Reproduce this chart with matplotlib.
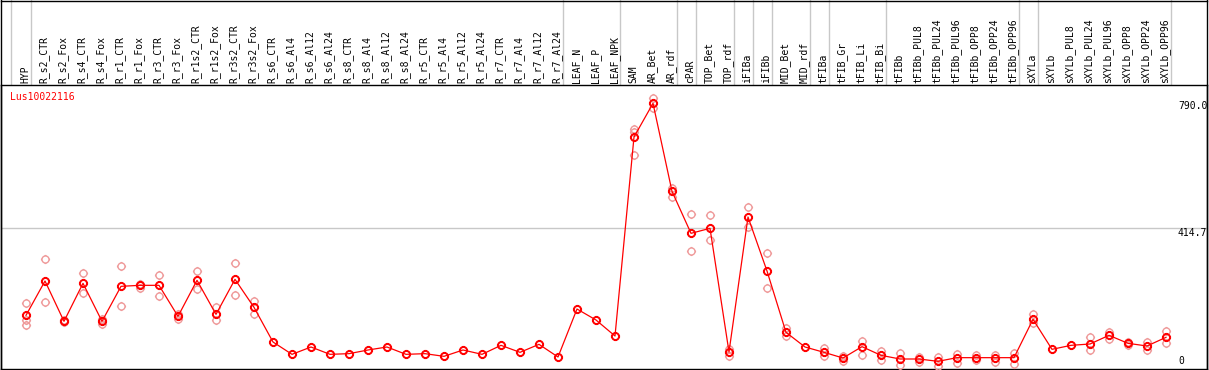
import numpy as np
import matplotlib
matplotlib.use("Agg")
import matplotlib.pyplot as plt
from matplotlib.path import Path
from matplotlib.transforms import blended_transform_factory
from matplotlib.lines import Line2D

nan = np.nan

labels = ['HYP', 'R_s2_CTR', 'R_s2_Fox', 'R_s4_CTR', 'R_s4_Fox', 'R_r1_CTR', 'R_r1_Fox',
          'R_r3_CTR', 'R_r3_Fox', 'R_r1s2_CTR', 'R_r1s2_Fox', 'R_r3s2_CTR', 'R_r3s2_Fox',
          'R_s6_CTR', 'R_s6_Al4', 'R_s6_Al12', 'R_s6_Al24', 'R_s8_CTR', 'R_s8_Al4', 'R_s8_Al12',
          'R_s8_Al24', 'R_r5_CTR', 'R_r5_Al4', 'R_r5_Al12', 'R_r5_Al24', 'R_r7_CTR', 'R_r7_Al4',
          'R_r7_Al12', 'R_r7_Al24', 'LEAF_N', 'LEAF_P', 'LEAF_NPK', 'SAM', 'AR_Bet', 'AR_rdf',
          'cPAR', 'TOP_Bet', 'TOP_rdf', 'iFIBa', 'iFIBb', 'MID_Bet', 'MID_rdf', 'tFIBa',
          'tFIB_Gr', 'tFIB_Li', 'tFIB_Bi', 'tFIBb', 'tFIBb_PUL8', 'tFIBb_PUL24', 'tFIBb_PUL96',
          'tFIBb_OPP8', 'tFIBb_OPP24', 'tFIBb_OPP96', 'sXYLa', 'sXYLb', 'sXYLb_PUL8',
          'sXYLb_PUL24', 'sXYLb_PUL96', 'sXYLb_OPP8', 'sXYLb_OPP24', 'sXYLb_OPP96']

# mean expression
mean_vals = [152, 255, 134, 248, 134, 239, 242, 242, 149, 257, 155, 260, 176,
             72, 35, 57, 35, 37, 48, 57, 35, 37, 29, 48, 35, 62, 41, 65, 27,
             171, 138, 90,
             687, 788, 524, 398, 413, 42, 447, 285, 101, 57, 41, 24, 58, 32,
             21, 21, 14, 25, 25, 25, 25,
             140, 50, 62, 66, 92, 68, 60, 86]

# replicates
rep_a = [189, 320, 137, 278, 142, 299, 245, 272, 155, 285, 176, 309, 194,
         nan, nan, nan, nan, nan, nan, nan, nan, nan, nan, nan, nan, nan, nan, nan, nan,
         nan, nan, nan,
         710, 805, 533, 455, 453, 52, 477, 339, 113, nan, 55, 30, 75, 46,
         38, 28, 28, 36, 33, 33, 38,
         155, nan, nan, 87, 103, 72, 71, 105]
rep_b = [138, 191, 131, 218, 126, 179, 233, 209, 142, 230, 137, 213, 157,
         nan, nan, nan, nan, nan, nan, nan, nan, nan, nan, nan, nan, nan, nan, nan, nan,
         nan, nan, nan,
         703, 773, 508, 344, 377, 30, 417, 233, 90, nan, 30, 15, 32, 18,
         3, 13, 0, 8, 18, 13, 6,
         130, nan, nan, 48, 80, 63, 48, 68]
rep_c = [123] + [nan] * 31 + [633] + [nan] * 28

separators = [-1.07, 0, 28, 31, 34, 35, 37, 38, 39, 41, 42, 45, 52, 53, 60]

gene = 'Lus10022116'
y_max = 790.0
y_mid = 414.7

W, H = 1209, 370
fig = plt.figure(figsize=(W / 100, H / 100), dpi=100)

# pixel layout: column i sits at x = 26 + 19*i, value v at y = 366 - v/3
left_px, right_px = 1, 1207
top_px, bot_px = 85, 369
ax = fig.add_axes([left_px / W, (H - bot_px) / H, (right_px - left_px) / W, (bot_px - top_px) / H])
ax.set_xlim((left_px - 26) / 19, (right_px - 26) / 19)
ax.set_ylim((366 - bot_px) * 3, (366 - top_px) * 3)
ax.set_xticks([])
ax.set_yticks([])
for s in ax.spines.values():
    s.set_color('black')
    s.set_linewidth(1)

# circle with little ticks
circ = Path.unit_circle()
ticks = Path([[0, 1], [0, 1.3], [0, -1], [0, -1.3], [1, 0], [1.3, 0], [-1, 0], [-1.3, 0]],
             [Path.MOVETO, Path.LINETO] * 4)
mk = Path.make_compound_path(circ, ticks)

x = np.arange(len(labels))
pink = '#ef9a9a'
for rep in [rep_a, rep_b, rep_c]:
    ax.plot(x, rep, linestyle='none', marker=mk, markersize=6.6, markerfacecolor='none',
            markeredgecolor=pink, markeredgewidth=1.0, zorder=3)
ax.plot(x, mean_vals, color='red', linewidth=0.9, zorder=4)
ax.plot(x, mean_vals, linestyle='none', marker=mk, markersize=6.6, markerfacecolor='none',
        markeredgecolor='red', markeredgewidth=1.4, zorder=5)

ax.axhline(y_mid, color='#c8c8c8', linewidth=1, zorder=1)

ax.text((1178 - 26) / 19, y_max + 6, '%.1f' % y_max, fontsize=7, family='DejaVu Sans Mono',
        ha='left', va='top', clip_on=True)
ax.text((1178 - 26) / 19, y_mid - 2, '%.1f' % y_mid, fontsize=7, family='DejaVu Sans Mono',
        ha='left', va='top', clip_on=True)
ax.text((1178 - 26) / 19, 0, '0', fontsize=7, family='DejaVu Sans Mono',
        ha='left', va='bottom', clip_on=True)

ax.text((10 - 26) / 19, (366 - 97) * 3, gene, color='red', fontsize=7,
        family='DejaVu Sans Mono', ha='left', va='center')

# header labels
trans = blended_transform_factory(ax.transData, ax.transAxes)
for i, lab in enumerate(labels):
    ax.text(i - 0.05, 1.008, lab, transform=trans, rotation=90, fontsize=7,
            family='DejaVu Sans Mono', ha='center', va='bottom', clip_on=False)

# column separators across header and plot
for s in separators:
    xf = (26 + 19 * s + 5) / W
    fig.add_artist(Line2D([xf, xf], [1 / H, 1], color='#c8c8c8', linewidth=1, zorder=0))

# outer frame
fig.add_artist(Line2D([left_px / W, right_px / W], [1 - 0.5 / H, 1 - 0.5 / H], color='black', linewidth=1))
fig.add_artist(Line2D([left_px / W, left_px / W], [0, 1], color='black', linewidth=1))
fig.add_artist(Line2D([right_px / W, right_px / W], [0, 1], color='black', linewidth=1))

plt.savefig('out.png', dpi=100)
